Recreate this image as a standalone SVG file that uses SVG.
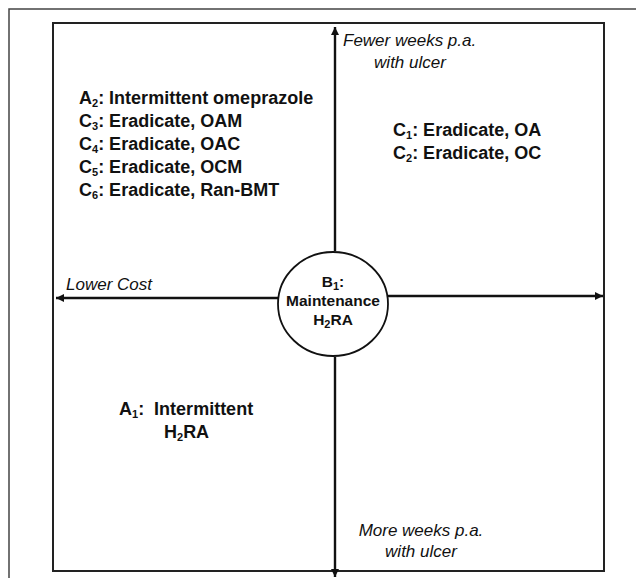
<svg xmlns="http://www.w3.org/2000/svg" width="636" height="578" viewBox="0 0 636 578">
<defs>
<style>
.lbl{font-family:"Liberation Sans",Arial,sans-serif;font-weight:bold;font-size:18px;fill:#111}
.ax{font-family:"Liberation Sans",Arial,sans-serif;font-style:italic;font-size:17px;fill:#111}
.ctr{font-family:"Liberation Sans",Arial,sans-serif;font-weight:bold;font-size:15.5px;fill:#111}
.sub{font-size:11px}
.line{stroke:#111;stroke-width:2.4;fill:none}
</style>
<marker id="ah" viewBox="0 0 10 10" refX="10" refY="5" markerWidth="10" markerHeight="8" markerUnits="userSpaceOnUse" orient="auto">
<path d="M0,0 L10,5 L0,10 z" fill="#111"/>
</marker>
</defs>
<rect x="0" y="0" width="636" height="578" fill="#fff"/>
<rect x="9" y="9" width="640" height="590" fill="none" stroke="#444" stroke-width="1.5"/>
<rect x="53" y="23" width="551" height="548" fill="none" stroke="#222" stroke-width="2"/>
<g id="connectors">
<line class="line" x1="335" y1="251" x2="335" y2="27" marker-end="url(#ah)"/>
<line class="line" x1="335" y1="357" x2="335" y2="577" marker-end="url(#ah)"/>
<line class="line" x1="278" y1="298" x2="56" y2="298" marker-end="url(#ah)"/>
<line class="line" x1="388" y1="296" x2="603" y2="296" marker-end="url(#ah)"/>
</g>
<g id="axis-labels">
<text class="ax" x="343" y="46">Fewer weeks p.a.</text>
<text class="ax" x="410" y="68" text-anchor="middle">with ulcer</text>
<text class="ax" x="421" y="536" text-anchor="middle">More weeks p.a.</text>
<text class="ax" x="421" y="557" text-anchor="middle">with ulcer</text>
<text class="ax" x="66" y="290">Lower Cost</text>
</g>
<g id="node-B1">
<ellipse cx="333" cy="304" rx="55" ry="52" fill="#fff" stroke="#111" stroke-width="1.8"/>
<text class="ctr" x="333" y="287" text-anchor="middle">B<tspan class="sub" dy="3">1</tspan><tspan dy="-3">:</tspan></text>
<text class="ctr" x="333" y="306" text-anchor="middle">Maintenance</text>
<text class="ctr" x="333" y="325" text-anchor="middle">H<tspan class="sub" dy="3">2</tspan><tspan dy="-3">RA</tspan></text>
</g>
<g id="node-upper-left">
<text class="lbl" x="79" y="104">A<tspan class="sub" dy="3">2</tspan><tspan dy="-3">: Intermittent omeprazole</tspan></text>
<text class="lbl" x="79" y="127">C<tspan class="sub" dy="3">3</tspan><tspan dy="-3">: Eradicate, OAM</tspan></text>
<text class="lbl" x="79" y="150">C<tspan class="sub" dy="3">4</tspan><tspan dy="-3">: Eradicate, OAC</tspan></text>
<text class="lbl" x="79" y="173">C<tspan class="sub" dy="3">5</tspan><tspan dy="-3">: Eradicate, OCM</tspan></text>
<text class="lbl" x="79" y="196">C<tspan class="sub" dy="3">6</tspan><tspan dy="-3">: Eradicate, Ran-BMT</tspan></text>
</g>
<g id="node-upper-right">
<text class="lbl" x="393" y="136">C<tspan class="sub" dy="3">1</tspan><tspan dy="-3">: Eradicate, OA</tspan></text>
<text class="lbl" x="393" y="159">C<tspan class="sub" dy="3">2</tspan><tspan dy="-3">: Eradicate, OC</tspan></text>
</g>
<g id="node-lower-left">
<text class="lbl" x="119" y="415" xml:space="preserve">A<tspan class="sub" dy="3">1</tspan><tspan dy="-3">:  Intermittent</tspan></text>
<text class="lbl" x="164" y="438">H<tspan class="sub" dy="3">2</tspan><tspan dy="-3">RA</tspan></text>
</g>
</svg>
